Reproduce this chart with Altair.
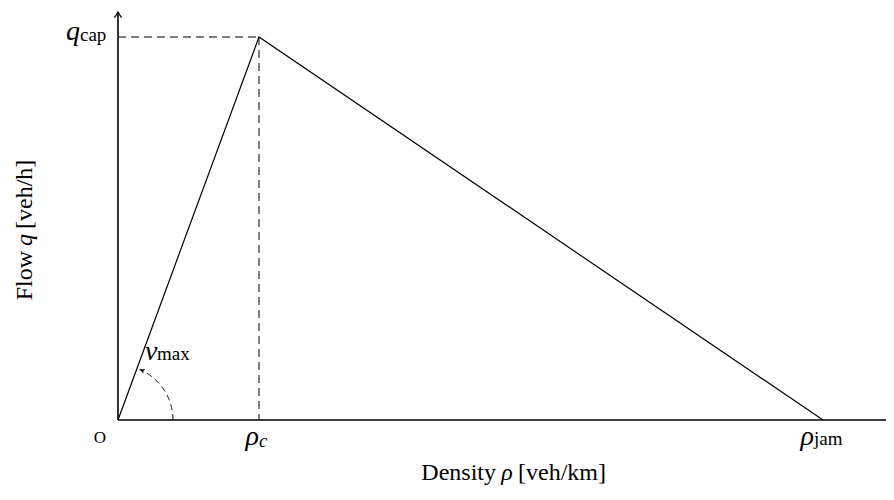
import altair as alt
import pandas as pd

# ---- data (triangular fundamental diagram) ----
rho = [0, 25, 125]          # density, veh/km
q = [0, 2000, 0]            # flow, veh/h
rho_c = 25
rho_jam = 125
q_cap = 2000
x_max = 136.17
y_max = 2130.5

W, H = 768, 408
px_x = W / x_max
px_y = H / y_max
arc_r = 55      # px radius of v_max angle marker
arc_end = 67    # degrees

FONT = "Liberation Serif"

xs = alt.Scale(domain=[0, x_max], nice=False, zero=False)
ys = alt.Scale(domain=[0, y_max], nice=False, zero=False)

one = pd.DataFrame({"k": [0]})

x_axis = alt.Chart(one).mark_rule(color="black", strokeWidth=1.6).encode(
    x=alt.value(0), x2=alt.value(W), y=alt.value(H))
y_axis = alt.Chart(one).mark_rule(color="black", strokeWidth=1.6).encode(
    x=alt.value(0), y=alt.value(0), y2=alt.value(H))

curve = alt.Chart(pd.DataFrame({"rho": rho, "q": q})).mark_line(
    color="black", strokeWidth=1.2
).encode(
    x=alt.X("rho:Q", scale=xs, axis=None),
    y=alt.Y("q:Q", scale=ys, axis=None),
)

guides = alt.Chart(pd.DataFrame({
    "x0": [0, rho_c], "x1": [rho_c, rho_c],
    "y0": [q_cap, q_cap], "y1": [q_cap, 0],
})).mark_rule(color="black", strokeWidth=1, strokeDash=[8, 5]).encode(
    x=alt.X("x0:Q", scale=xs, axis=None), x2="x1:Q",
    y=alt.Y("y0:Q", scale=ys, axis=None), y2="y1:Q",
)

arc = alt.Chart(alt.sequence(0, arc_end + 0.5, 1, as_="deg")).transform_calculate(
    ax=f"{arc_r / px_x}*cos(datum.deg*PI/180)",
    ay=f"{arc_r / px_y}*sin(datum.deg*PI/180)",
).mark_line(color="black", strokeWidth=1, strokeDash=[6, 4]).encode(
    x=alt.X("ax:Q", scale=xs, axis=None),
    y=alt.Y("ay:Q", scale=ys, axis=None),
    order="deg:Q",
)

arc_head = alt.Chart(pd.DataFrame({"deg": [arc_end]})).transform_calculate(
    ax=f"{arc_r / px_x}*cos(datum.deg*PI/180)",
    ay=f"{arc_r / px_y}*sin(datum.deg*PI/180)",
).mark_point(
    shape="M0,0 L-0.8,1.8 L0,1.3 L0.8,1.8 Z", filled=True, color="black",
    size=36, angle=360 - arc_end, opacity=1,
).encode(
    x=alt.X("ax:Q", scale=xs, axis=None),
    y=alt.Y("ay:Q", scale=ys, axis=None),
)

y_head = alt.Chart(one).mark_point(
    shape="M-1,1.6 Q-0.3,0.5 0,0 Q0.3,0.5 1,1.6", filled=False,
    stroke="black", strokeWidth=1.3, size=49, opacity=1,
).encode(x=alt.value(0), y=alt.value(0))


def label(x, y, text, size, dx, dy, align="left", italic=False):
    return alt.Chart(pd.DataFrame({"x": [x], "y": [y], "t": [text]})).mark_text(
        font=FONT, fontSize=size, fontStyle="italic" if italic else "normal",
        align=align, baseline="alphabetic", dx=dx, dy=dy, color="black",
    ).encode(
        x=alt.X("x:Q", scale=xs, axis=None),
        y=alt.Y("y:Q", scale=ys, axis=None),
        text="t:N",
    )


def ptext(x, y, text, size, align="left", italic=False, angle=0):
    return alt.Chart(pd.DataFrame({"t": [text]})).mark_text(
        font=FONT, fontSize=size, fontStyle="italic" if italic else "normal",
        align=align, baseline="alphabetic", angle=angle, color="black",
    ).encode(x=alt.value(x), y=alt.value(y), text="t:N")


labels = [
    label(0, q_cap, "q", 28, -38, 3, "right", True),
    label(0, q_cap, "cap", 19, -38, 4, "left"),
    label(rho_c, 0, "ρ", 28, 0, 25, "right", True),
    label(rho_c, 0, "c", 19, 0, 27, "left", True),
    label(rho_jam, 0, "ρ", 28, -9, 25, "right", True),
    label(rho_jam, 0, "jam", 19, -9, 25, "left"),
    label(0, 0, "O", 17, -18, 23, "center"),
    label(0, 0, "v", 28, 27, -60, "left", True),
    label(0, 0, "max", 19, 39, -60, "left"),
]

titles = [
    ptext(378, 468, "Density", 24, "right"),
    ptext(389, 468, "ρ", 24, "center", True),
    ptext(400, 468, "[veh/km]", 24, "left"),
    ptext(-86, 239, "Flow", 24, "right", angle=270),
    ptext(-86, 228, "q", 24, "center", True, angle=270),
    ptext(-86, 217, "[veh/h]", 24, "left", angle=270),
]

chart = alt.layer(x_axis, y_axis, curve, guides, arc, arc_head, y_head,
                  *labels, *titles).properties(
    width=W, height=H,
    autosize=alt.AutoSizeParams(type="none"),
    padding={"left": 110, "top": 4, "right": 0, "bottom": 70},
).configure_view(stroke=None)

chart.save("out.html", embed_options={"renderer": "svg", "actions": False})
